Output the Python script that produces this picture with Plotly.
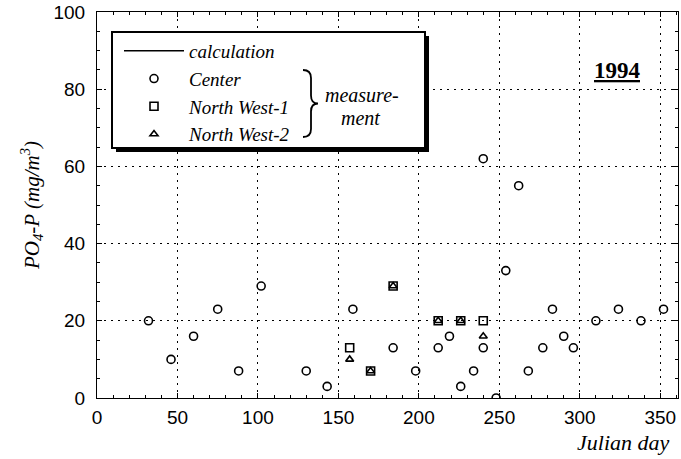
import plotly.graph_objects as go

# ---- data ----
center_day = [32, 46, 60, 75, 88, 102, 130, 143, 159, 184, 198, 212, 219, 226, 234,
              240, 240, 248, 254, 262, 268, 277, 283, 290, 296, 310, 324, 338, 352]
center_val = [20, 10, 16, 23, 7, 29, 7, 3, 23, 13, 7, 13, 16, 3, 7,
              62, 13, 0, 33, 55, 7, 13, 23, 16, 13, 20, 23, 20, 23]
nw1_day = [157, 170, 184, 212, 226, 240]
nw1_val = [13, 7, 29, 20, 20, 20]
nw2_day = [157, 170, 184, 212, 226, 240]
nw2_val = [10, 7, 29, 20, 20, 16]
calc_day = [None]
calc_val = [None]
x_ticks = [0, 50, 100, 150, 200, 250, 300, 350]
y_ticks = [0, 20, 40, 60, 80, 100]

# ---- geometry helpers (pixel -> paper) ----
W, H = 681, 459
ML, MR, MT, MB = 97, 3, 12, 61
PW, PH = W - ML - MR, H - MT - MB


def px(x):
    return (x - ML) / PW


def py(y):
    return (H - MB - y) / PH


serif = "Liberation Serif, Times New Roman, serif"
sans = "Liberation Sans, Arial, sans-serif"

fig = go.Figure()
fig.add_trace(go.Scatter(x=calc_day, y=calc_val, mode="lines", name="calculation",
                         line=dict(color="black", width=1.5)))
fig.add_trace(go.Scatter(x=center_day, y=center_val, mode="markers", name="Center",
                         marker=dict(symbol="circle-open", size=8, color="black",
                                     line=dict(width=1.6, color="black"))))
fig.add_trace(go.Scatter(x=nw1_day, y=nw1_val, mode="markers", name="North West-1",
                         marker=dict(symbol="square-open", size=8, color="black",
                                     line=dict(width=1.6, color="black"))))
fig.add_trace(go.Scatter(x=nw2_day, y=nw2_val, mode="markers", name="North West-2",
                         marker=dict(symbol="triangle-up-open", size=7, color="black",
                                     line=dict(width=1.6, color="black"))))

axis_common = dict(showline=True, linecolor="black", linewidth=1, mirror="ticks",
                   ticks="inside", ticklen=5, tickcolor="black", zeroline=False,
                   automargin=False,
                   showgrid=True, gridcolor="black", gridwidth=1.3, griddash="2px,5px",
                   tickfont=dict(family=sans, size=19, color="black"))

fig.update_xaxes(range=[0, 361], tickvals=x_ticks, ticklabelstandoff=2,
                 minor=dict(ticks="inside", ticklen=3, dtick=10, showgrid=False,
                            tickcolor="black"),
                 **axis_common)
fig.update_yaxes(range=[0, 100], tickvals=y_ticks, ticklabelstandoff=7,
                 minor=dict(ticks="inside", ticklen=3, dtick=5, showgrid=False,
                            tickcolor="black"),
                 title=dict(text="<i>PO<sub>4</sub>-P (mg/m<sup>3</sup>)</i>",
                            font=dict(family=serif, size=21, color="black"),
                            standoff=8),
                 **axis_common)

shapes = [
    # legend shadow
    dict(type="rect", xref="paper", yref="paper", layer="above",
         x0=px(116), x1=px(429), y0=py(152), y1=py(36),
         fillcolor="black", line=dict(width=0)),
    # legend box
    dict(type="rect", xref="paper", yref="paper", layer="above",
         x0=px(112), x1=px(425), y0=py(148), y1=py(32),
         fillcolor="white", line=dict(color="black", width=2)),
]
# brace
bx, by0, by1, tipx = 303, 70, 137, 318
mid = (by0 + by1) / 2
pts = [("M", bx, by0), ("Q", bx + 8, by0, bx + 8, by0 + 8), ("L", bx + 8, mid - 8),
       ("Q", bx + 8, mid, tipx, mid), ("Q", bx + 8, mid, bx + 8, mid + 8),
       ("L", bx + 8, by1 - 8), ("Q", bx + 8, by1, bx, by1)]
path = ""
for p in pts:
    cmd = p[0]
    coords = p[1:]
    seg = " ".join(f"{px(coords[i]):.5f},{py(coords[i+1]):.5f}" for i in range(0, len(coords), 2))
    path += f"{cmd}{seg} "
shapes.append(dict(type="path", xref="paper", yref="paper", layer="above", path=path,
                   line=dict(color="black", width=1.8)))


def note(x, y, text, size, xanchor="center"):
    return dict(x=px(x), y=py(y), xref="paper", yref="paper", text=text,
                xanchor=xanchor, yanchor="middle", showarrow=False,
                font=dict(family=serif, size=size, color="black"))


annotations = [
    note(362, 95, "<i>measure-</i>", 20),
    note(360, 118, "<i>ment</i>", 20),
    note(617, 70, "<b><u>1994</u></b>", 23),
    note(671, 442, "<i>Julian day</i>", 22, xanchor="right"),
]

fig.update_layout(
    width=W, height=H,
    margin=dict(l=ML, r=MR, t=MT, b=MB, autoexpand=False),
    paper_bgcolor="white", plot_bgcolor="white",
    shapes=shapes, annotations=annotations,
    showlegend=True,
    legend=dict(x=px(119), y=py(32), xanchor="left", yanchor="top",
                bgcolor="rgba(0,0,0,0)", borderwidth=0, itemwidth=60,
                font=dict(family=serif, size=19, color="black", style="italic"),
                tracegroupgap=0),
)

fig.write_html("out.html", config={"displayModeBar": False},
               post_script="document.body.style.margin='0px';")
